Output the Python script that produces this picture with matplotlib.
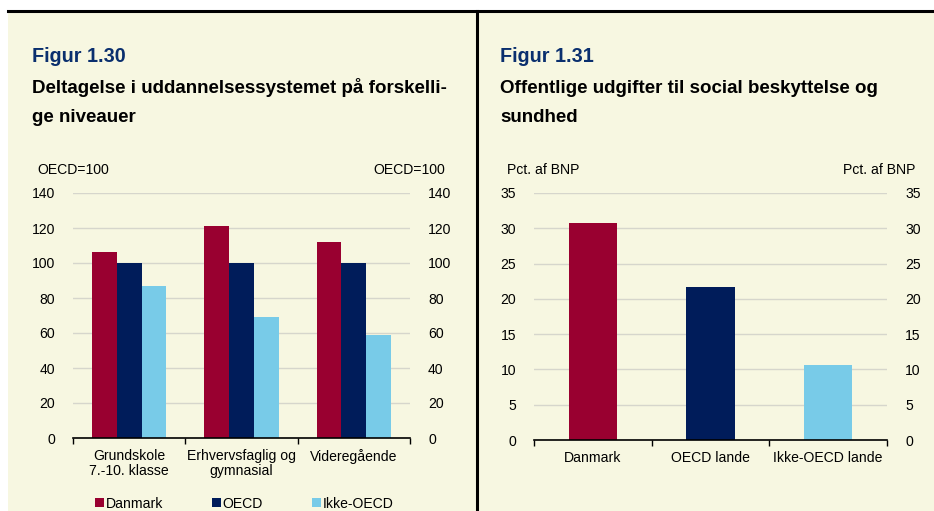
import matplotlib
matplotlib.use("Agg")
import matplotlib.pyplot as plt
from matplotlib.patches import Rectangle, Patch
from matplotlib.lines import Line2D
import numpy as np

plt.rcParams['font.family'] = ['Liberation Sans', 'DejaVu Sans']

# Figur 1.30
udd_kategorier = ["Grundskole\n7.-10. klasse", "Erhvervsfaglig og\ngymnasial", "Videregående"]
udd_serier = ["Danmark", "OECD", "Ikke-OECD"]
udd_danmark = [106, 121, 112]
udd_oecd = [100, 100, 100]
udd_ikke_oecd = [87, 69, 59]
udd_yticks = [0, 20, 40, 60, 80, 100, 120, 140]

# Figur 1.31
soc_kategorier = ["Danmark", "OECD lande", "Ikke-OECD lande"]
soc_vaerdier = [30.7, 21.7, 10.6]
soc_yticks = [0, 5, 10, 15, 20, 25, 30, 35]

W, H = 934, 511
BG = "#F7F7E1"
RED = "#990030"
NAVY = "#001C5A"
LIGHT = "#78CBE8"
TITLE_BLUE = "#0A2F6E"
GRID = "#D6D6CC"
FS = 10.1
TFS = 13.5


def fx(px):
    return px / W


def fy(py):
    return 1 - py / H


fig = plt.figure(figsize=(W / 100, H / 100), dpi=100)
fig.patch.set_facecolor("white")

# baggrund og rammer
fig.patches.append(Rectangle((fx(8), 0), 1 - fx(8), fy(11), transform=fig.transFigure,
                             facecolor=BG, edgecolor="none", zorder=-5))
fig.add_artist(Line2D([fx(8), 1], [fy(11), fy(11)], color="black", lw=2.2, transform=fig.transFigure))
fig.add_artist(Line2D([fx(477), fx(477)], [0, fy(11)], color="black", lw=2.2, transform=fig.transFigure))


def style_axis(ax, yticks, ylim):
    ax.set_facecolor("none")
    ax.set_ylim(*ylim)
    ax.set_yticks(yticks)
    ax.set_xlim(-0.5, 2.5)
    for s in ["top", "right", "left"]:
        ax.spines[s].set_visible(False)
    ax.spines["bottom"].set_linewidth(1.2)
    ax.grid(axis="y", color=GRID, lw=1)
    ax.set_axisbelow(True)
    ax.tick_params(axis="y", length=0, labelsize=FS, pad=13, labelright=True, right=False)
    ax.set_xticks([-0.5, 0.5, 1.5, 2.5], minor=True)
    ax.tick_params(axis="x", which="minor", length=4, width=1, direction="out")
    ax.tick_params(axis="x", which="major", length=0, labelsize=FS, pad=8)


# venstre figur
ax1 = fig.add_axes([fx(73), fy(438), fx(410 - 73), (438 - 193) / H])
style_axis(ax1, udd_yticks, (0, 140))
x = np.arange(len(udd_kategorier))
bw = 0.22
ax1.bar(x - bw, udd_danmark, bw, color=RED, label=udd_serier[0])
ax1.bar(x, udd_oecd, bw, color=NAVY, label=udd_serier[1])
ax1.bar(x + bw, udd_ikke_oecd, bw, color=LIGHT, label=udd_serier[2])
ax1.set_xticks(x)
ax1.set_xticklabels(udd_kategorier, linespacing=1.05)

handles = [Patch(facecolor=c, edgecolor="none") for c in (RED, NAVY, LIGHT)]
fig.legend(handles, udd_serier, loc="center left", bbox_to_anchor=(fx(95), fy(503.5)),
           ncol=3, frameon=False, fontsize=FS, handlelength=0.65, handleheight=0.65,
           handletextpad=0.1, columnspacing=3.5, borderpad=0, borderaxespad=0)

# højre figur
ax2 = fig.add_axes([fx(534), fy(440), fx(887 - 534), (440 - 193) / H])
style_axis(ax2, soc_yticks, (0, 35))
x2 = np.arange(len(soc_kategorier))
ax2.bar(x2, soc_vaerdier, 0.41, color=[RED, NAVY, LIGHT])
ax2.set_xticks(x2)
ax2.set_xticklabels(soc_kategorier)

# tekster
fig.text(fx(32), fy(61.5), "Figur 1.30", fontsize=14.2, fontweight="bold", color=TITLE_BLUE, va="baseline")
fig.text(fx(32), fy(93), "Deltagelse i uddannelsessystemet på forskelli-", fontsize=TFS,
         fontweight="bold", va="baseline")
fig.text(fx(32), fy(122.5), "ge niveauer", fontsize=TFS, fontweight="bold", va="baseline")
fig.text(fx(37), fy(174), "OECD=100", fontsize=FS, va="baseline")
fig.text(fx(445), fy(174), "OECD=100", fontsize=FS, va="baseline", ha="right")

fig.text(fx(500), fy(61.5), "Figur 1.31", fontsize=14.2, fontweight="bold", color=TITLE_BLUE, va="baseline")
fig.text(fx(500), fy(93), "Offentlige udgifter til social beskyttelse og", fontsize=TFS,
         fontweight="bold", va="baseline")
fig.text(fx(500), fy(122.5), "sundhed", fontsize=TFS, fontweight="bold", va="baseline")
fig.text(fx(507), fy(174), "Pct. af BNP", fontsize=FS, va="baseline")
fig.text(fx(915), fy(174), "Pct. af BNP", fontsize=FS, va="baseline", ha="right")

fig.savefig("out.png", dpi=100, facecolor=fig.get_facecolor())
